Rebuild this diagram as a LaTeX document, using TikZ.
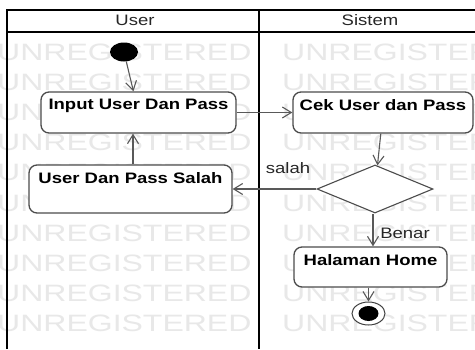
\documentclass[tikz,border=0pt]{standalone}
\usepackage{fontspec}
\setmainfont{Liberation Sans}
\usetikzlibrary{arrows.meta,shapes.geometric}

% text is set a little flatter than it is wide
\newcommand{\squash}[2][0.82]{\scalebox{1}[#1]{#2}}

\begin{document}
\begin{tikzpicture}[x=1pt,y=-1pt,
  lane/.style={line width=1.8pt, black},
  action/.style={draw=black!70, line width=1.3pt, fill=white, rounded corners=8pt, inner sep=0pt},
  acttext/.style={font=\fontsize{18.5}{20}\selectfont\bfseries, inner sep=0pt, anchor=north, yshift=-7.5pt},
  plaintext/.style={font=\fontsize{18.5}{20}\selectfont, inner sep=0pt, text=black!85},
  wmark/.style={font=\fontsize{32}{34}\selectfont, inner sep=0pt, anchor=west, text=black!9},
  decision/.style={diamond, draw=black!70, line width=1.1pt, fill=white, inner sep=0pt,
    minimum width=116pt, minimum height=48pt},
  startdot/.style={ellipse, fill=black, inner sep=0pt, minimum width=28pt, minimum height=19pt},
  endring/.style={ellipse, draw=black!75, line width=1pt, fill=white, inner sep=0pt,
    minimum width=33pt, minimum height=23pt},
  enddot/.style={ellipse, fill=black, inner sep=0pt, minimum width=20pt, minimum height=15pt},
  flow/.style={draw=black!65, line width=1.1pt,
    -{Straight Barb[length=9pt,width=11pt,line width=1.1pt]}}
]
\useasboundingbox (0,0) rectangle (475,349);
\fill[white] (0,0) rectangle (475,349);

% faint background watermark text
\begin{scope}
  \clip (0,0) rectangle (475,349);
  \foreach \k in {0,...,9}{
    \node[wmark] at (-3,52+30.2*\k) {\squash[0.74]{UNREGISTERED}};
    \node[wmark] at (282,52+30.2*\k) {\squash[0.74]{UNREGISTERED}};
  }
\end{scope}

% swimlanes
\fill[white] (7,10) rectangle (475,32);
\draw[lane] (7,349) -- (7,10) -- (475,10);
\draw[lane] (7,32) -- (475,32);
\draw[lane] (259,10) -- (259,349);
\node[plaintext] (hUser) at (135,20) {\squash{User}};
\node[plaintext] (hSistem) at (370,20) {\squash{Sistem}};

% activity nodes
\node[startdot] (init) at (124,52) {};
\node[action, minimum width=195pt, minimum height=41pt] (input) at (138.5,112.5) {};
\node[acttext] at (input.north) {\squash{Input User Dan Pass}};
\node[action, minimum width=180pt, minimum height=41pt] (cek) at (383,112.5) {};
\node[acttext] at (cek.north) {\squash{Cek User dan Pass}};
\node[decision] (dec) at (375,189) {};
\node[action, minimum width=203pt, minimum height=48pt] (salah) at (130.5,189) {};
\node[acttext] at (salah.north) {\squash{User Dan Pass Salah}};
\node[action, minimum width=153pt, minimum height=40pt] (home) at (370.5,267) {};
\node[acttext] at (home.north) {\squash{Halaman Home}};
\node[endring] (final) at (368.5,313.5) {};
\node[enddot] (finaldot) at (final.center) {};

% guard labels
\node[plaintext] (lblSalah) at (288,168) {\squash{salah}};
\node[plaintext] (lblBenar) at (405,233) {\squash{Benar}};

% control flow
\draw[flow] (init) -- (input);
\draw[flow] (input) -- (cek);
\draw[flow] (cek) -- (dec);
\draw[flow] (dec) -- (salah);
\draw[flow] ([xshift=2.5pt]salah.north) -- ([xshift=2.5pt]salah.north |- input.south);
\draw[flow] ([xshift=-2pt]dec.south) -- ([xshift=-2pt]dec.south |- home.north);
\draw[flow] (home.south -| final) -- (final);
\end{tikzpicture}
\end{document}
